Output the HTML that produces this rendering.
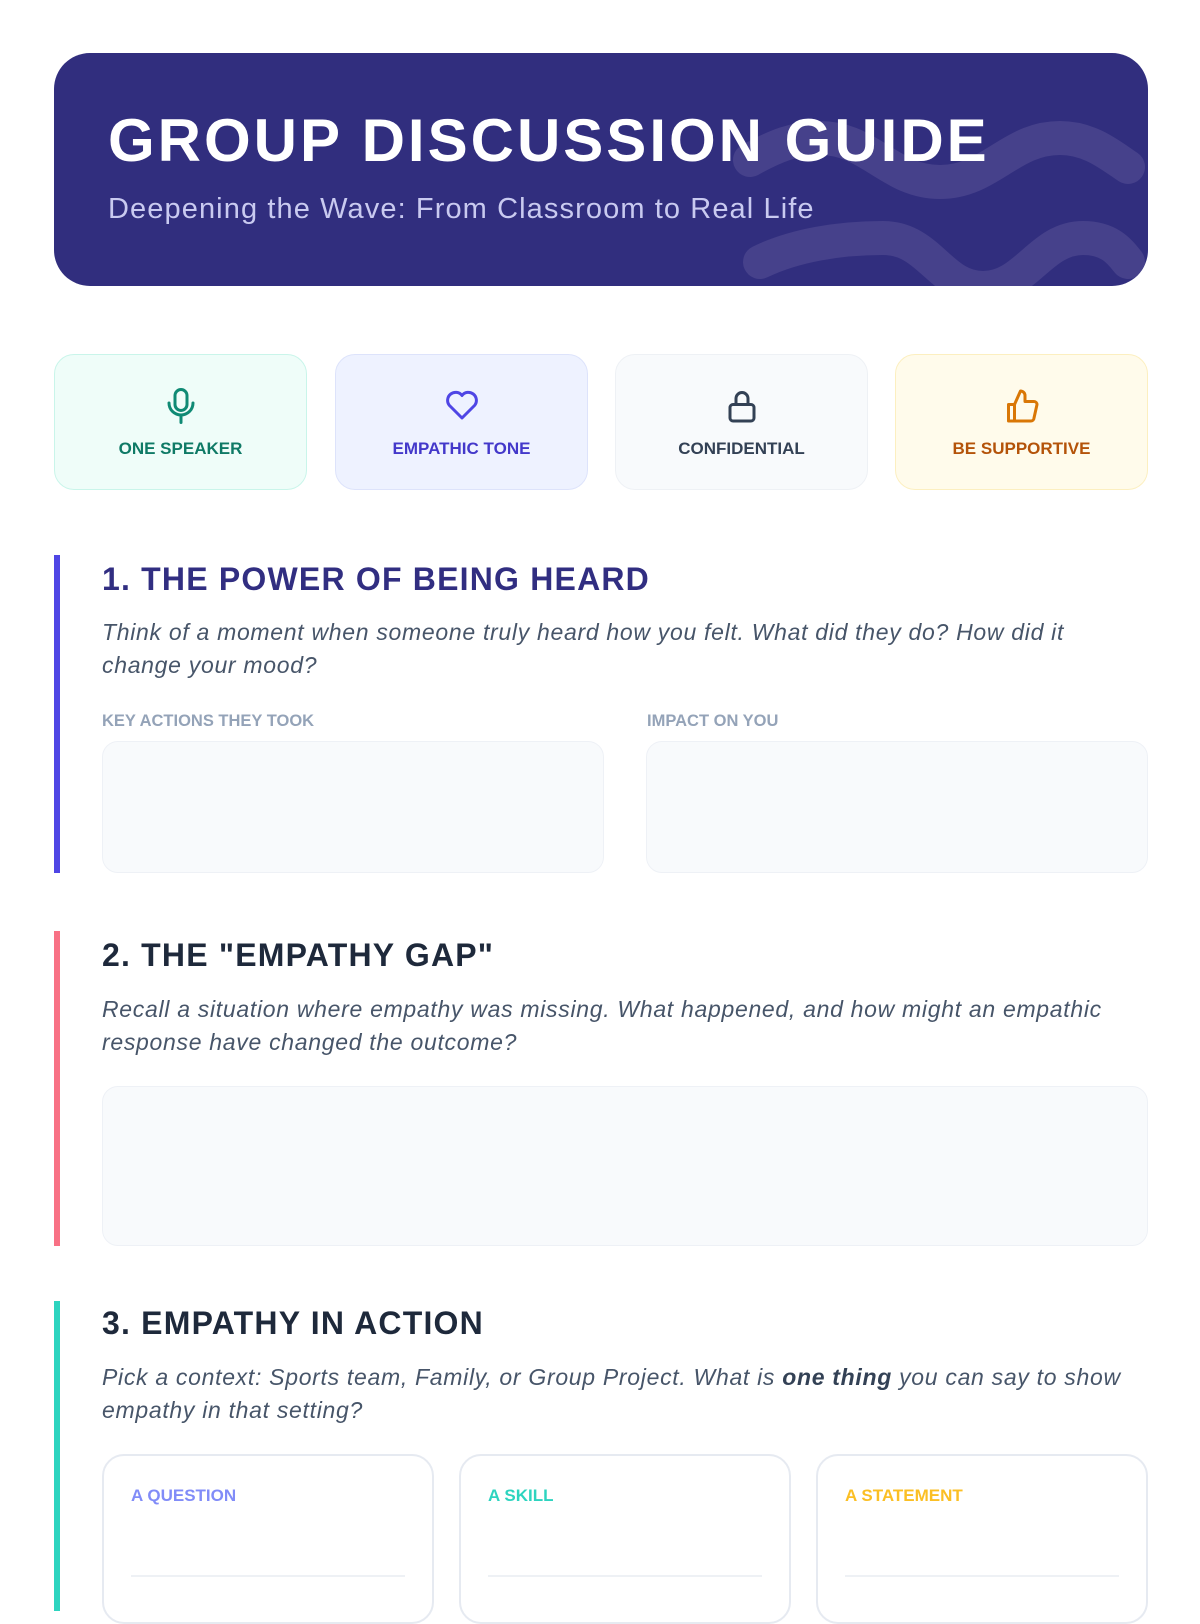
<!DOCTYPE html>
<html><head><meta charset="utf-8"><style>
*{box-sizing:border-box;margin:0;padding:0}
body{width:1200px;height:1600px;overflow:hidden;background:#fff;font-family:"Liberation Sans",sans-serif;position:relative}
.a{position:absolute}
.hdr{left:54px;top:53px;width:1094px;height:233px;background:#312e7e;border-radius:36px;overflow:hidden}
.t{left:108px;top:106px;font-size:60px;font-weight:bold;color:#fff;letter-spacing:3px;white-space:nowrap}
.st{left:108px;top:193px;font-size:29px;color:#c9caf0;letter-spacing:1.1px;white-space:nowrap}
.card{top:354px;height:136px;width:253px;border-radius:20px;border:1.5px solid;text-align:center}
.card svg{position:absolute;left:108px;top:31px}
.card div{position:absolute;left:0;right:0;top:84px;font-size:17px;font-weight:bold}
.bar{left:54px;width:6px}
.h{left:102px;font-size:32px;font-weight:bold;letter-spacing:1.2px;white-space:nowrap}
.q{left:102px;width:1050px;font-size:23px;letter-spacing:0.7px;font-style:italic;color:#475569;line-height:33px}
.lab{font-size:16.5px;font-weight:bold;color:#94a3b8}
.box{background:#f8fafc;border:1.5px solid #eef1f6;border-radius:16px}
.c3{top:1454px;height:170px;width:332px;border:2px solid #e6eaf1;border-radius:22px;background:#fff}
.c3 .l{position:absolute;left:27px;top:30px;font-size:17px;font-weight:bold}
.c3 .ln{position:absolute;left:27px;right:27px;top:119px;border-top:2px solid #eef1f5}
</style></head><body>
<div class="a hdr">
<svg class="a" style="left:-54px;top:-53px" width="1200" height="400"><g stroke="#46418b" stroke-width="34" fill="none" stroke-linecap="round"><path d="M750 160 C775 146,795 138,820 138 C870 138,890 182,940 182 C990 182,1010 138,1060 138 C1090 138,1110 155,1128 167"/><path d="M760 262 C795 245,840 238,883 238 C930 238,940 288,983 288 C1026 288,1040 238,1083 238 C1110 238,1120 252,1128 262"/></g></svg>
</div>
<div class="a t">GROUP DISCUSSION GUIDE</div>
<div class="a st">Deepening the Wave: From Classroom to Real Life</div>

<div class="a card" style="left:54px;background:#effdf9;border-color:#c9f5ea"><svg width="36" height="40" viewBox="0 0 24 26" fill="none" stroke="#0f8a74" stroke-width="2" stroke-linecap="round"><rect x="8" y="2" width="8" height="14" rx="4"/><path d="M4 11a8 8 0 0 0 16 0M12 19v5"/></svg><div style="color:#0f7a66">ONE SPEAKER</div></div>
<div class="a card" style="left:335px;background:#eef2ff;border-color:#dde3fb"><svg width="36" height="40" viewBox="0 0 24 26" fill="none" stroke="#4f46e5" stroke-width="2" stroke-linejoin="round"><path d="M12 21 L3.5 12.5 A5 5 0 0 1 12 6 A5 5 0 0 1 20.5 12.5 Z"/></svg><div style="color:#4338ca">EMPATHIC TONE</div></div>
<div class="a card" style="left:615px;background:#f8fafc;border-color:#eef1f5"><svg width="36" height="40" viewBox="0 0 24 26" fill="none" stroke="#334155" stroke-width="2"><rect x="4" y="12" width="16" height="11" rx="2"/><path d="M8 12V8a4 4 0 0 1 8 0v4"/></svg><div style="color:#334155">CONFIDENTIAL</div></div>
<div class="a card" style="left:895px;background:#fffbeb;border-color:#fcefc0"><svg width="36" height="40" viewBox="0 0 24 26" fill="none" stroke="#d97706" stroke-width="2" stroke-linejoin="round"><path d="M3 12h4v11H3zM7 12l4-9a3 3 0 0 1 3 3v4h6a2 2 0 0 1 2 2l-2 9a2 2 0 0 1-2 2H7"/></svg><div style="color:#b45309">BE SUPPORTIVE</div></div>

<div class="a bar" style="top:555px;height:318px;background:#4f46e5"></div>
<div class="a h" style="top:561px;color:#312e81">1. THE POWER OF BEING HEARD</div>
<div class="a q" style="top:616px;width:1015px">Think of a moment when someone truly heard how you felt. What did they do? How did it change your mood?</div>
<div class="a lab" style="left:102px;top:712px">KEY ACTIONS THEY TOOK</div>
<div class="a lab" style="left:647px;top:712px">IMPACT ON YOU</div>
<div class="a box" style="left:102px;top:741px;width:502px;height:132px"></div>
<div class="a box" style="left:646px;top:741px;width:502px;height:132px"></div>

<div class="a bar" style="top:931px;height:315px;background:#f87185"></div>
<div class="a h" style="top:937px;color:#1e293b">2. THE "EMPATHY GAP"</div>
<div class="a q" style="top:993px">Recall a situation where empathy was missing. What happened, and how might an empathic response have changed the outcome?</div>
<div class="a box" style="left:102px;top:1086px;width:1046px;height:160px"></div>

<div class="a bar" style="top:1301px;height:310px;background:#2dd4bf"></div>
<div class="a h" style="top:1305px;color:#1e293b">3. EMPATHY IN ACTION</div>
<div class="a q" style="top:1361px">Pick a context: Sports team, Family, or Group Project. What is <b style="color:#334155">one thing</b> you can say to show empathy in that setting?</div>
<div class="a c3" style="left:102px"><div class="l" style="color:#818cf8">A QUESTION</div><div class="ln"></div></div>
<div class="a c3" style="left:459px"><div class="l" style="color:#2dd4bf">A SKILL</div><div class="ln"></div></div>
<div class="a c3" style="left:816px"><div class="l" style="color:#fbbf24">A STATEMENT</div><div class="ln"></div></div>
</body></html>
